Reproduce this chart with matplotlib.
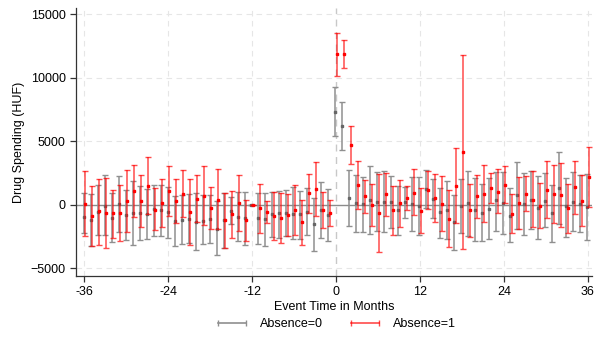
import matplotlib.pyplot as plt
import numpy as np
from matplotlib.lines import Line2D

plt.rcParams['font.family'] = ['Liberation Sans', 'DejaVu Sans']

months = np.arange(-36, 37)

# Absence=0 (gray): point estimate, lower and upper CI
gray_pt = [-970, -1180, -530, -50, -1000, 80, -790, -630, -630, -680, -290, -420,
           -580, -1290, -1180, -1080, -1340, -1240, -1130, -1870, -1180, -450, -950, -1000,
           0, -1050, -1130, -740, -640, -630, -680, -740, -530, -1530, -370, -820,
           7320, 6210, 530, 130, 50, 370, 260, 260, 260, -390, 210, 50,
           -80, 1240, 500, -550, -390, -1340, -80, 130, -370, -630, -290, 370,
           160, -870, 790, 100, 400, -210, 340, -660, 1340, -80, 240, 100, -180]
gray_lo = [-2180, -3240, -2390, -2390, -2920, -2100, -2790, -3160, -2740, -2680, -2420, -2470,
           -2580, -3210, -3110, -3030, -3530, -3100, -3030, -3950, -3390, -1530, -2840, -3160,
           0, -3110, -3240, -2520, -2580, -2450, -2710, -2710, -2340, -3630, -2580, -2840,
           5390, 4290, -1680, -2130, -2100, -2260, -2050, -2100, -1790, -2370, -1000, -2050,
           -2390, -210, -1000, -2580, -2660, -3550, -2240, -2450, -2840, -2870, -2710, -2080,
           -2310, -2890, -1870, -2370, -1920, -2710, -1760, -2920, -1470, -2550, -2030, -2130, -2790]
gray_hi = [970, 840, 1580, 2320, 970, 2290, 1210, 1890, 1450, 1240, 1550, 1580,
           1370, 680, 760, 840, 920, 760, 760, 320, 950, 630, 1030, 1050,
           0, 970, 970, 1030, 1100, 1160, 1420, 1100, 1320, 530, 1790, 1240,
           9260, 8130, 2740, 2340, 2160, 3030, 2580, 2630, 2290, 1500, 1370, 2210,
           2210, 2740, 2050, 1320, 1890, 800, 2050, 2630, 2130, 1630, 2100, 2610,
           2610, 1290, 3400, 2530, 2680, 2260, 2470, 1600, 4130, 2080, 2580, 2320, 2400]

# Absence=1 (red): point estimate, lower and upper CI
red_pt = [100, -900, -470, -660, -660, -630, 290, 1100, 320, 1500, -370, 160,
          1080, 320, 870, -550, 500, 680, -210, 420, -1210, -740, 160, -1210,
          0, -260, -530, -870, -1030, -760, -390, -1370, 920, 1260, -370, -630,
          11870, 11870, 4710, 1600, 680, -30, -630, 820, -420, 130, 530, 970,
          -470, 1180, 550, 100, -1080, 1500, 4180, -420, 680, 890, 1290, 1050,
          1550, -740, 160, 890, 420, -50, 1210, 870, 790, -240, 1390, 290, 2210]
red_lo = [-2470, -3240, -3130, -3390, -2610, -2840, -2130, -920, -1710, -740, -1970, -1740,
          -890, -1450, -970, -3160, -1340, -1610, -1920, -1890, -3390, -2610, -2030, -2840,
          0, -2240, -1420, -2790, -3000, -2420, -2390, -3160, -630, -870, -1790, -1630,
          10180, 10740, 3210, -320, -630, -1680, -3710, -890, -2340, -1740, -420, -820,
          -2240, -340, -1340, -2050, -3320, -1390, -3470, -2520, -1000, -1370, 130, -660,
          130, -2180, -1870, -500, -1760, -1840, -1030, -1420, -1760, -2240, -680, -1680, -130]
red_hi = [2700, 1470, 2030, 2080, 1210, 1550, 2740, 3130, 2370, 3760, 1320, 2030,
          3030, 2050, 2710, 2000, 2340, 3030, 1420, 2790, 950, 1080, 2320, 370,
          0, 1680, 320, 1000, 920, 890, 1600, 370, 2420, 3400, 1050, 370,
          13530, 12970, 6180, 3470, 1970, 1630, 2420, 2500, 1500, 1950, 1470, 2790,
          1290, 2680, 2420, 2260, 1180, 4470, 11820, 1680, 2340, 3130, 2470, 2790,
          3030, 820, 2160, 2290, 2630, 1710, 3450, 3130, 3320, 1680, 3470, 2320, 4550]

xticks = [-36, -24, -12, 0, 12, 24, 36]
yticks = [-5000, 0, 5000, 10000, 15000]

fig = plt.figure(figsize=(5.96, 3.49), dpi=100)
ax = fig.add_axes([76 / 596, 1 - 276 / 349, 516 / 596, 268 / 349])

# dashed grid, zero reference lines
for x in xticks:
    if x != 0:
        ax.axvline(x, color='#e6e6e6', lw=0.8, ls=(0, (5, 4)), zorder=0)
for y in yticks:
    if y != 0:
        ax.axhline(y, color='#e6e6e6', lw=0.8, ls=(0, (5, 4)), zorder=0)
ax.axvline(0, color='#c8c8c8', lw=1.0, ls=(0, (5, 4)), zorder=0)
ax.axhline(0, color='#8c8c8c', lw=1.0, zorder=1)

g_pt = np.array(gray_pt)
r_pt = np.array(red_pt)
g_err = [g_pt - np.array(gray_lo), np.array(gray_hi) - g_pt]
r_err = [r_pt - np.array(red_lo), np.array(red_hi) - r_pt]

ax.errorbar(months - 0.1, g_pt, yerr=g_err, fmt='s', ms=1.8, color='#666666',
            ecolor='#8f8f8f', elinewidth=1.1, capsize=2.3, capthick=1.0,
            label='Absence=0', zorder=2)
ax.errorbar(months + 0.1, r_pt, yerr=r_err, fmt='s', ms=1.8, color='#ff0000',
            ecolor=(1, 0, 0, 0.7), elinewidth=1.1, capsize=2.3, capthick=1.0,
            label='Absence=1', zorder=3)

ax.set_xlim(-37.2, 36.6)
ax.set_ylim(-5600, 15500)
ax.set_xticks(xticks)
ax.set_xticklabels([str(t) for t in xticks])
ax.set_yticks(yticks)
ax.tick_params(labelsize=9, length=4, width=0.9, color='#333333')
for s in ['top', 'right']:
    ax.spines[s].set_visible(False)
for s in ['left', 'bottom']:
    ax.spines[s].set_color('#333333')
    ax.spines[s].set_linewidth(0.9)

ax.set_xlabel('Event Time in Months', fontsize=9, labelpad=1.5)
ax.set_ylabel('Drug Spending (HUF)', fontsize=9, labelpad=4)

# legend: line handles with caps at both ends
h0 = Line2D([], [], color='#8f8f8f', lw=1.2, marker='|', ms=4)
h1 = Line2D([], [], color=(1, 0, 0, 0.7), lw=1.2, marker='|', ms=4)
fig.legend([h0, h1], ['Absence=0', 'Absence=1'], loc='center', numpoints=2,
           bbox_to_anchor=(335 / 596, 1 - 324 / 349), ncol=2, frameon=False,
           fontsize=9, handlelength=2.8, columnspacing=2.0)

fig.savefig('out.png', dpi=100)
